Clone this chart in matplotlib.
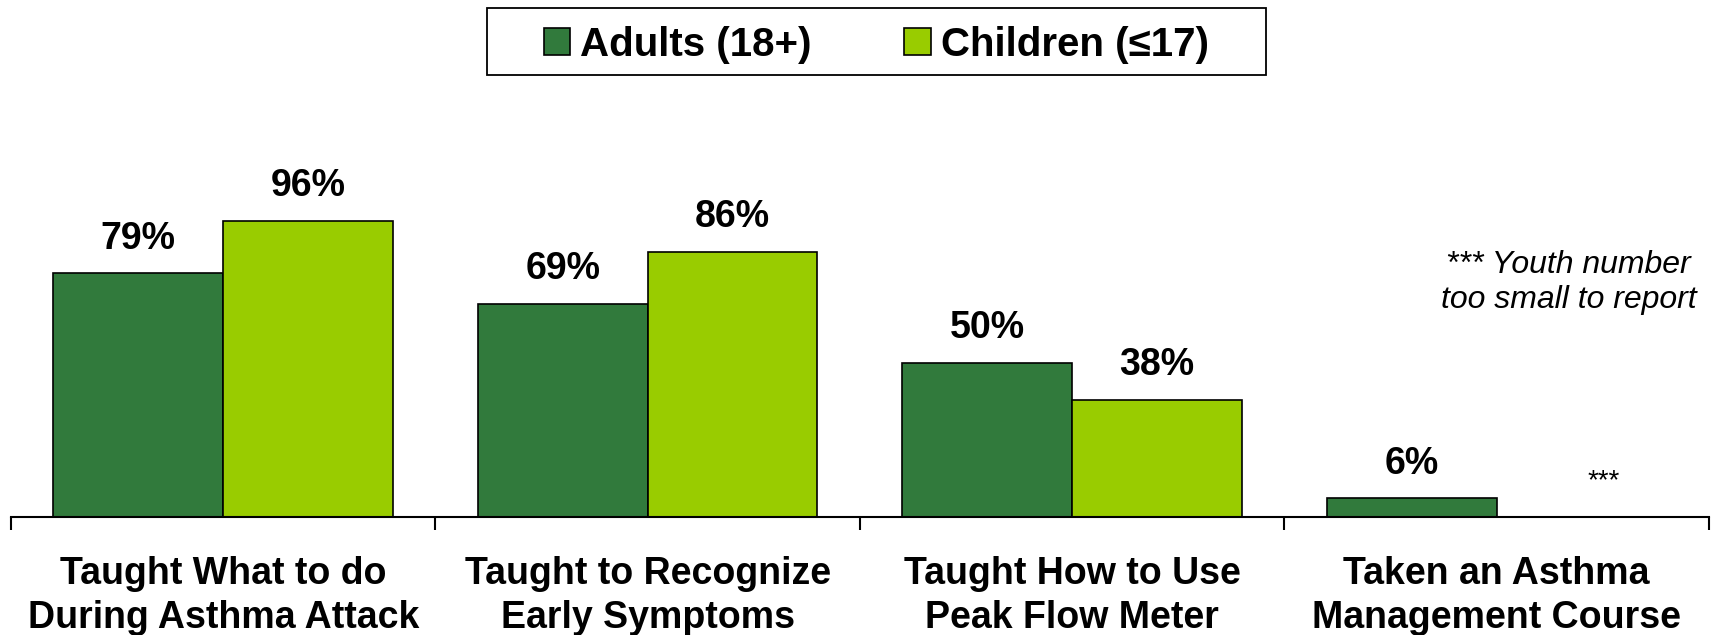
import numpy as np
import matplotlib.pyplot as plt
from matplotlib.ticker import FixedLocator
from matplotlib.patches import Rectangle

plt.rcParams['font.family'] = ['Liberation Sans', 'DejaVu Sans']

# data
categories = ['Taught What to do\nDuring Asthma Attack',
              'Taught to Recognize\nEarly Symptoms',
              'Taught How to Use\nPeak Flow Meter',
              'Taken an Asthma\nManagement Course']
adults = [79, 69, 50, 6]
children = [96, 86, 38, None]   # last one not reported
series_names = ['Adults (18+)', 'Children (≤17)']

dark_green = '#317a3c'
light_green = '#99cc00'

fig = plt.figure(figsize=(17.15, 6.35), dpi=100)
ax = fig.add_axes([0.0064, 0.186, 0.990, 0.68])

x = np.arange(len(categories))
w = 0.4

b1 = ax.bar(x - w/2, adults, w, color=dark_green, edgecolor='black', linewidth=1.2,
            label=series_names[0])
ch_vals = [v if v is not None else 0 for v in children]
b2 = ax.bar(x + w/2, ch_vals, w, color=light_green, edgecolor='black', linewidth=1.2,
            label=series_names[1])
b2[3].set_visible(False)

# value labels
for xi, v in zip(x - w/2, adults):
    ax.annotate(f'{v}%', (xi, v), xytext=(0, 12), textcoords='offset points',
                ha='center', va='bottom', fontsize=27, fontweight='bold')
for xi, v in zip(x + w/2, children):
    if v is None:
        ax.annotate('***', (xi, 0), xytext=(16, 16), textcoords='offset points',
                    ha='center', va='bottom', fontsize=20)
    else:
        ax.annotate(f'{v}%', (xi, v), xytext=(0, 12), textcoords='offset points',
                    ha='center', va='bottom', fontsize=27, fontweight='bold')

ax.text(3.17, 76, '*** Youth number\ntoo small to report', ha='center', va='center',
        fontsize=23, fontstyle='italic', linespacing=1.25)

ax.set_xlim(-0.5, 3.5)
ax.set_ylim(0, 140)
for s in ['top', 'right', 'left']:
    ax.spines[s].set_visible(False)
ax.spines['bottom'].set_linewidth(1.5)
ax.set_yticks([])

# boundary ticks between groups, labels centred under each group
ax.xaxis.set_major_locator(FixedLocator(np.arange(-0.5, 4.0, 1.0)))
ax.xaxis.set_minor_locator(FixedLocator(x))
ax.set_xticklabels([])
ax.set_xticklabels(categories, minor=True, fontsize=27, fontweight='bold',
                   linespacing=1.3)
ax.tick_params(axis='x', which='major', length=9, width=1.5, direction='out')
ax.tick_params(axis='x', which='minor', length=0, pad=28)

# legend box
fig.patches.append(Rectangle((0.284, 0.882), 0.454, 0.105, transform=fig.transFigure,
                             facecolor='white', edgecolor='black', linewidth=1.3))
leg = fig.legend(handles=[b1, b2], labels=series_names, loc='center',
                 bbox_to_anchor=(0.511, 0.929), ncol=2,
                 prop={'weight': 'bold', 'size': 29}, frameon=False,
                 handlelength=0.65, handleheight=0.65, handletextpad=0.25,
                 columnspacing=2.3, borderpad=0.2)

fig.savefig('out.png', dpi=100)
